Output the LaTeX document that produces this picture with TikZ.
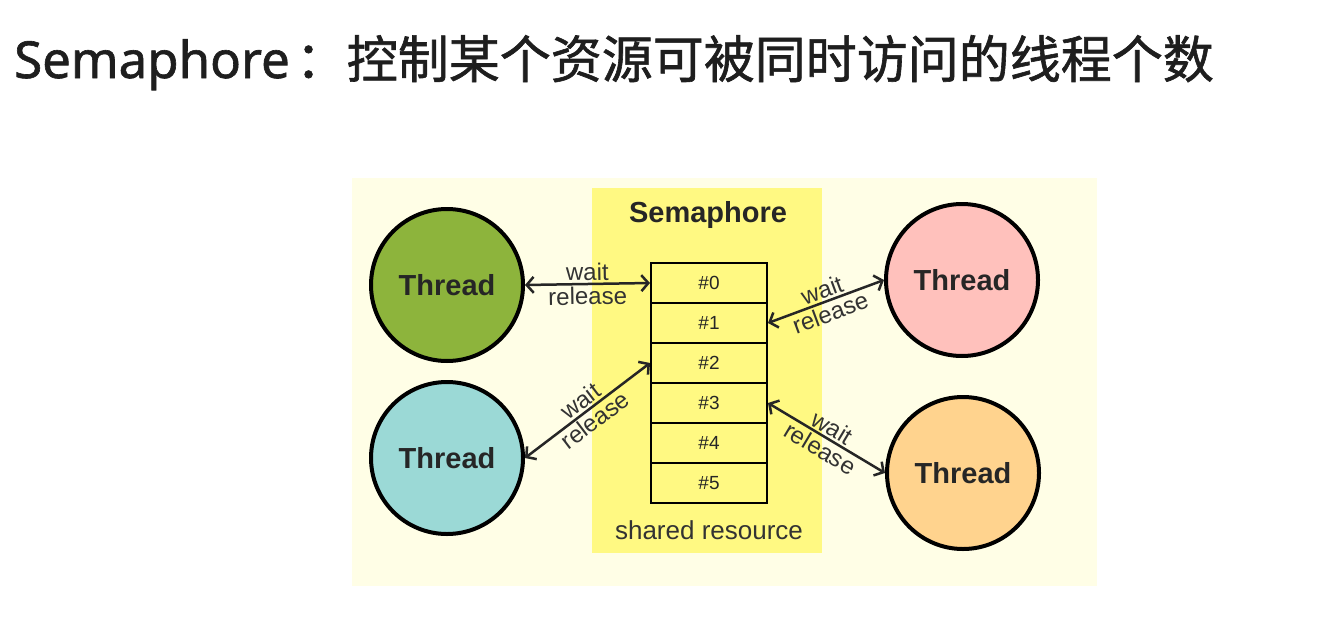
\documentclass[tikz,border=0pt]{standalone}
\usepackage{fontspec}
\setmainfont{Liberation Sans}
\newfontfamily\cjk[FakeBold=1.2]{Noto Sans CJK SC}
\newfontfamily\latintitle[FakeBold=1.2]{Noto Sans}
\usetikzlibrary{arrows.meta}
\definecolor{bgcream}{HTML}{FFFEE6}
\definecolor{semyellow}{HTML}{FFF982}
\definecolor{tgreen}{HTML}{8DB43C}
\definecolor{tcyan}{HTML}{9BD9D6}
\definecolor{tpink}{HTML}{FFC1BC}
\definecolor{torange}{HTML}{FFD38E}
\definecolor{labelgray}{HTML}{333333}
\definecolor{titlegray}{HTML}{1E1E1E}
\tikzset{
  thread/.style={circle, draw=black, line width=4pt, minimum size=152pt, inner sep=0pt,
    font=\fontsize{29}{34}\selectfont\bfseries, text=black!85},
  slot/.style={rectangle, draw=black, line width=2pt, minimum width=116pt, minimum height=40pt,
    inner sep=0pt, font=\fontsize{19}{22}\selectfont, text=black!85},
  conn/.style={line width=2.5pt, draw=black!85, {Straight Barb[length=7pt,width=16pt]}-{Straight Barb[length=7pt,width=16pt]}},
  lbl/.style={font=\fontsize{24}{27}\selectfont, text=labelgray, inner sep=2pt, midway, sloped},
}
\begin{document}
\begin{tikzpicture}[x=1pt,y=-1pt]
\useasboundingbox[fill=white] (0,0) rectangle (1319,621);
% title
\node[anchor=base west, inner sep=0pt, text=titlegray, font=\fontsize{51}{60}\selectfont] (title) at (14,78)
  {{\latintitle Semaphore\hspace{6pt}}{\cjk ：控制某个资源可被同时访问的线程个数}};
% backgrounds
\fill[bgcream] (352,178) rectangle (1097,586);
\fill[semyellow] (592,188) rectangle (822,553);
\node[font=\fontsize{29}{34}\selectfont\bfseries, text=black!85] (semlabel) at (708,215) {Semaphore};
% slots
\foreach \i in {0,...,5} {
  \node[slot] (s\i) at (709,{283+40*\i}) {\#\i};
}
\node[font=\fontsize{26}{30}\selectfont, text=labelgray] (shared) at (709,530) {shared resource};
% threads
\node[thread, fill=tgreen] (t1) at (447,285) {Thread};
\node[thread, fill=tcyan] (t3) at (447,458) {Thread};
\node[thread, fill=tpink] (t2) at (962,280) {Thread};
\node[thread, fill=torange] (t4) at (963,473) {Thread};
% connectors
\draw[conn] (t1.east) -- (s0.west) node[lbl, above] {wait} node[lbl, below] {release};
\draw[conn] (t3.east) -- (s2.west) node[lbl, above] {wait} node[lbl, below] {release};
\draw[conn] (s1.east) -- (t2.west) node[lbl, above] {wait} node[lbl, below] {release};
\draw[conn] (s3.east) -- (t4.west) node[lbl, above] {wait} node[lbl, below] {release};
\end{tikzpicture}
\end{document}
